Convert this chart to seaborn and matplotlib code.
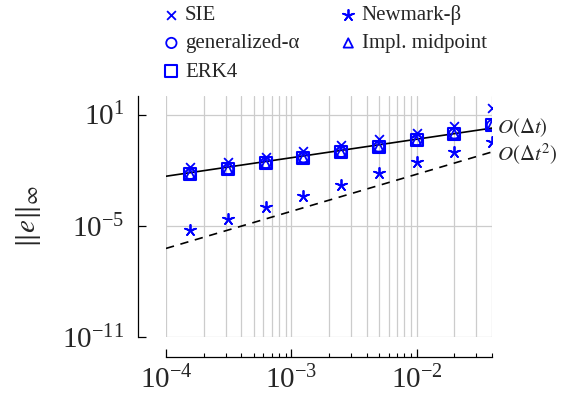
import numpy as np
import pandas as pd
import matplotlib
matplotlib.use('Agg')
import matplotlib.pyplot as plt
import matplotlib.ticker as mticker
import seaborn as sns

# data
dt = [1.5625e-4, 3.125e-4, 6.25e-4, 1.25e-3, 2.5e-3, 5e-3, 1e-2, 2e-2, 4e-2]
sie = [1.4e-2, 2.6e-2, 5.3e-2, 0.11, 0.24, 0.5, 1.0, 2.5, 22.0]
newmark = [6.2e-6, 2.4e-5, 1.0e-4, 4.1e-4, 1.6e-3, 6.6e-3, 2.6e-2, 9.5e-2, 0.33]
gen_alpha = [6.2e-3, 1.1e-2, 2.4e-2, 4.8e-2, 9.5e-2, 0.18, 0.41, 0.93, 2.6]
impl_mid = [6.0e-3, 1.1e-2, 2.3e-2, 4.6e-2, 9.2e-2, 0.18, 0.40, 0.90, 2.6]
erk4 = [6.2e-3, 1.1e-2, 2.4e-2, 4.8e-2, 9.5e-2, 0.18, 0.41, 0.93, 2.6]

ref_dt = [1e-4, 4e-2]
ref_order1 = [4.7e-3, 1.86]
ref_order2 = [6.0e-7, 9.6e-2]

sns.set_theme(style='white')
plt.rcParams['font.family'] = ['Liberation Serif', 'DejaVu Serif']
plt.rcParams['mathtext.fontset'] = 'stix'

fig = plt.figure(figsize=(5.64, 4.07), dpi=100)
ax = fig.add_axes([166/564, 70/407, 326/564, 241/407])

blue = '#0000ff'
series = [
    ('SIE', sie, 'x', dict(color=blue, s=40, linewidth=1.3)),
    ('generalized-α', gen_alpha, 'o', dict(facecolor='none', edgecolor=blue, s=55, linewidth=1.3)),
    ('ERK4', erk4, 's', dict(facecolor='none', edgecolor=blue, s=75, linewidth=1.5)),
    ('Newmark-β', newmark, (5, 2, 0), dict(color=blue, s=65, linewidth=1.3)),
    ('Impl. midpoint', impl_mid, '^', dict(facecolor='none', edgecolor=blue, s=45, linewidth=1.3)),
]

sns.lineplot(x=ref_dt, y=ref_order1, color='black', linewidth=1.2, ax=ax)
sns.lineplot(x=ref_dt, y=ref_order2, color='black', linewidth=1.2, linestyle=(0, (5, 4)), ax=ax)

for label, vals, mk, kw in series:
    df = pd.DataFrame({'dt': dt, 'err': vals})
    sns.scatterplot(data=df, x='dt', y='err', marker=mk, label=label, ax=ax, zorder=3, **kw)

ax.set_xscale('log')
ax.set_yscale('log')
ax.set_xlim(1e-4, 4e-2)
ax.set_ylim(1e-11, 1e2)

ax.yaxis.set_major_locator(mticker.FixedLocator([1e-11, 1e-5, 1e1]))
ax.yaxis.set_minor_locator(mticker.NullLocator())
ax.xaxis.set_major_locator(mticker.LogLocator(base=10))
ax.xaxis.set_minor_locator(mticker.LogLocator(base=10, subs=np.arange(2, 10)))
ax.xaxis.set_minor_formatter(mticker.NullFormatter())

ax.grid(True, which='both', axis='x', color='#cccccc', linewidth=0.9)
ax.grid(True, which='major', axis='y', color='#cccccc', linewidth=0.9)
ax.set_axisbelow(True)

for s in ['top', 'right']:
    ax.spines[s].set_visible(False)
ax.spines['left'].set_position(('outward', 20))
ax.spines['bottom'].set_position(('outward', 14.5))
for s in ['left', 'bottom']:
    ax.spines[s].set_color('black')
    ax.spines[s].set_linewidth(0.9)

ax.tick_params(axis='both', which='major', direction='in', length=5.5, width=0.9,
               labelsize=21, color='black', left=True, bottom=True)
ax.tick_params(axis='x', which='minor', direction='in', length=3, width=0.8,
               color='black', bottom=True)
ax.tick_params(axis='x', which='major', pad=6)
ax.tick_params(axis='y', which='major', pad=10)

ax.set_xlabel('')
ax.set_ylabel(r'$\|e\|_\infty$', fontsize=21, labelpad=14)

ax.text(4.4e-2, ref_order1[-1], r'$O(\Delta t)$', fontsize=15, ha='left', va='center')
ax.text(4.4e-2, ref_order2[-1] * 0.75, r'$O(\Delta t^2)$', fontsize=15, ha='left', va='center')

handles, labels = ax.get_legend_handles_labels()
ax.legend_.remove()
fig.legend(handles, labels, loc='upper left', bbox_to_anchor=(162/564, 1 - 3/407),
           ncol=2, frameon=False, fontsize=15, handlelength=0.7, handletextpad=0.3,
           labelspacing=0.42, columnspacing=2.0, borderaxespad=0, borderpad=0.1)

fig.savefig('out.png', dpi=100)
